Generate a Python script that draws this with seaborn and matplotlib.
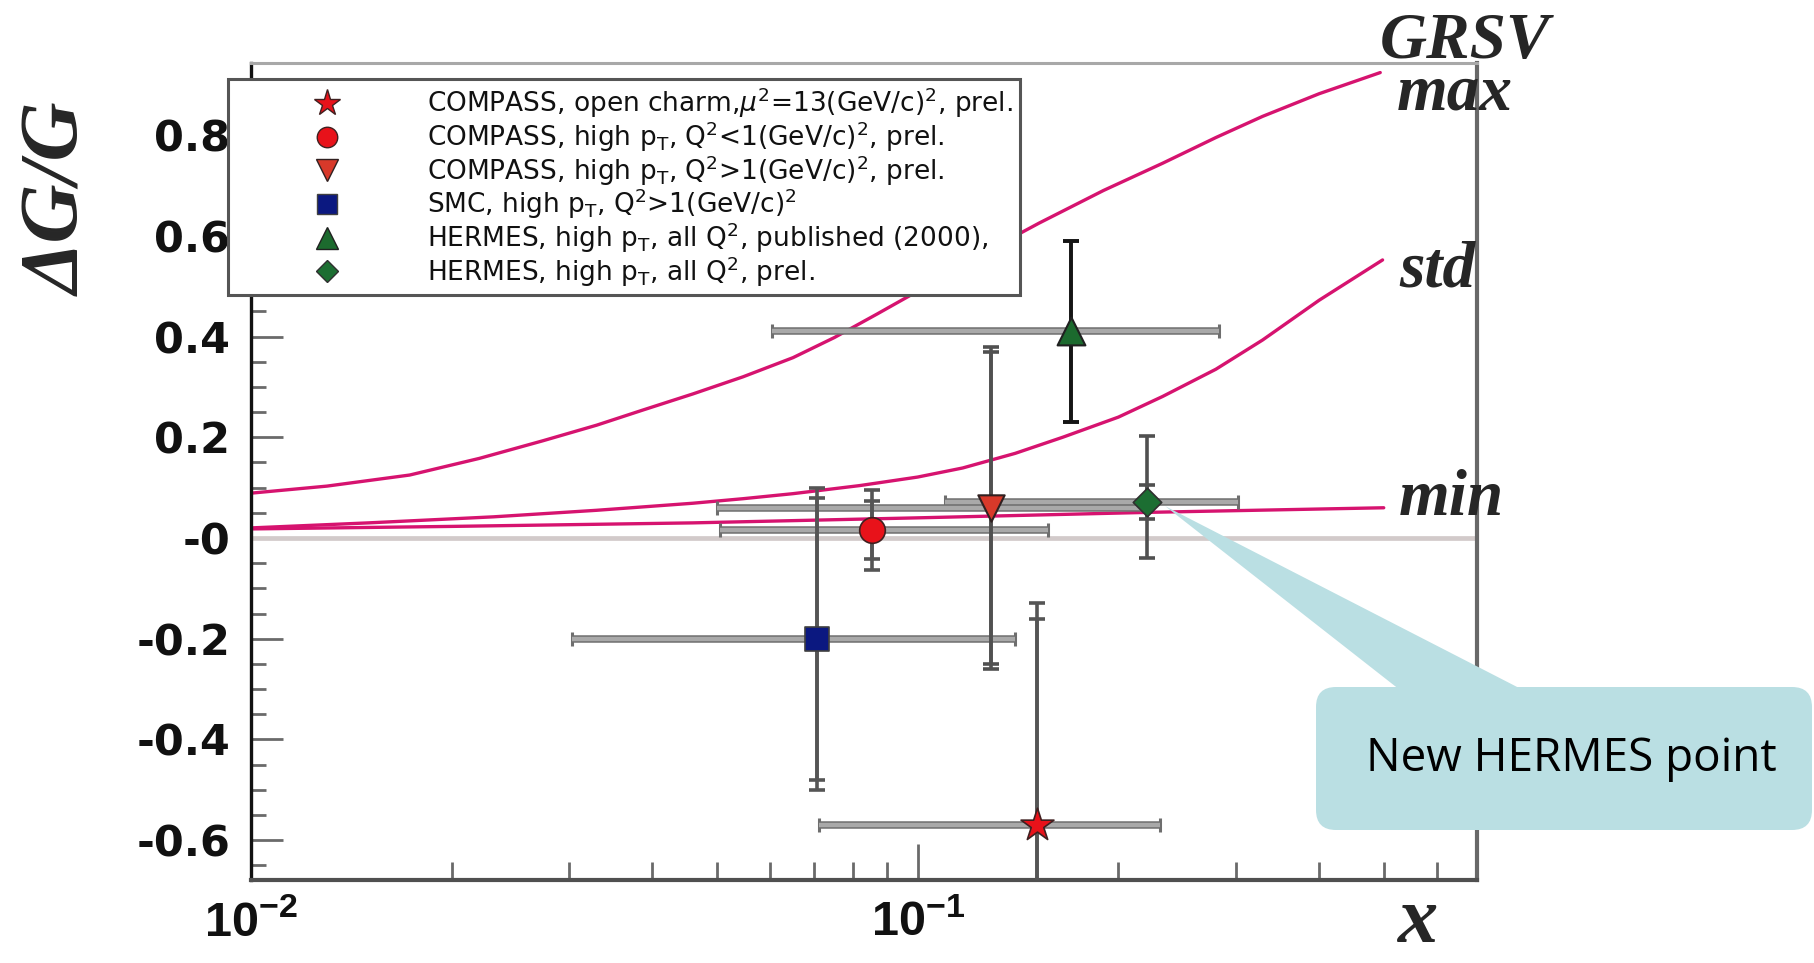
import numpy as np
import pandas as pd
import matplotlib
matplotlib.use("Agg")
import matplotlib.pyplot as plt
import seaborn as sns
from matplotlib.lines import Line2D
from matplotlib.patches import FancyBboxPatch, Polygon
from matplotlib.transforms import IdentityTransform
from matplotlib.ticker import FixedLocator, FixedFormatter, MultipleLocator, NullFormatter

# ---------------- GRSV model curves ----------------
grsv_max_x = [0.01, 0.013, 0.0173, 0.022, 0.0274, 0.033, 0.0387, 0.046, 0.0547, 0.065,
              0.075, 0.087, 0.1, 0.122, 0.152, 0.19, 0.233, 0.28, 0.329, 0.4, 0.494]
grsv_max_y = [0.089, 0.103, 0.125, 0.158, 0.193, 0.224, 0.254, 0.286, 0.32, 0.358,
              0.398, 0.445, 0.49, 0.557, 0.625, 0.69, 0.744, 0.795, 0.837, 0.882, 0.924]
grsv_std_x = [0.01, 0.015, 0.0231, 0.033, 0.046, 0.0547, 0.065, 0.0818, 0.1, 0.1168,
              0.14, 0.165, 0.2, 0.233, 0.28, 0.329, 0.4, 0.498]
grsv_std_y = [0.02, 0.03, 0.042, 0.055, 0.069, 0.078, 0.088, 0.104, 0.121, 0.139,
              0.168, 0.200, 0.240, 0.281, 0.335, 0.393, 0.472, 0.552]
grsv_min_x = [0.01, 0.02, 0.046, 0.1, 0.224, 0.5]
grsv_min_y = [0.018, 0.023, 0.030, 0.040, 0.051, 0.060]

# ---------------- measurements ----------------
experiments = [
    r"COMPASS, open charm,$\mu^2$=13(GeV/c)$^2$, prel.",
    r"COMPASS, high p$_\mathrm{T}$, Q$^2$<1(GeV/c)$^2$, prel.",
    r"COMPASS, high p$_\mathrm{T}$, Q$^2$>1(GeV/c)$^2$, prel.",
    r"SMC, high p$_\mathrm{T}$, Q$^2$>1(GeV/c)$^2$",
    r"HERMES, high p$_\mathrm{T}$, all Q$^2$, published (2000),",
    r"HERMES, high p$_\mathrm{T}$, all Q$^2$, prel.",
]
x_g = [0.151, 0.0854, 0.129, 0.0705, 0.170, 0.221]
dg_g = [-0.57, 0.016, 0.06, -0.20, 0.41, 0.071]
x_low = [0.071, 0.0505, 0.050, 0.0303, 0.0605, 0.110]
x_high = [0.231, 0.1567, 0.220, 0.140, 0.283, 0.302]
stat_err = [0.41, 0.058, 0.31, 0.28, 0.18, 0.034]
tot_err_up = [0.44, 0.079, 0.32, 0.30, 0.18, 0.132]
tot_err_dn = [0.44, 0.079, 0.32, 0.30, 0.18, 0.111]

y_ticks = [-0.6, -0.4, -0.2, 0.0, 0.2, 0.4, 0.6, 0.8]
y_tick_labels = ["-0.6", "-0.4", "-0.2", "-0", "0.2", "0.4", "0.6", "0.8"]
x_ticks = [0.01, 0.1]
x_tick_labels = [r"$\mathbf{10^{-2}}$", r"$\mathbf{10^{-1}}$"]

# ---------------- styles ----------------
marker_style = [
    dict(marker="*", s=620, color="#e8121a", edgecolor="#402020", linewidth=1.2),
    dict(marker="o", s=340, color="#e8121a", edgecolor="#402020", linewidth=1.2),
    dict(marker="v", s=360, color="#d8392a", edgecolor="#302020", linewidth=1.5),
    dict(marker="s", s=310, color="#0b1880", edgecolor="#404040", linewidth=1.2),
    dict(marker="^", s=400, color="#1c6a2e", edgecolor="#202020", linewidth=1.5),
    dict(marker="D", s=210, color="#1c6e32", edgecolor="#303030", linewidth=1.2),
]
vbar_colors = ["#555555", "#555555", "#505050", "#555555", "#151515", "#505050"]
curve_color = "#d6136f"

sns.set_theme(style="white")
plt.rcParams["font.family"] = ["DejaVu Sans"]
plt.rcParams["mathtext.fontset"] = "custom"
plt.rcParams["mathtext.rm"] = "DejaVu Sans"
plt.rcParams["mathtext.it"] = "DejaVu Sans:italic"
plt.rcParams["mathtext.bf"] = "Liberation Sans:bold"

fig = plt.figure(figsize=(18.15, 9.63), dpi=100)
fig.patch.set_facecolor("white")
ax = fig.add_axes([251 / 1815, 83 / 963, 1226 / 1815, 817 / 963])
ax.set_facecolor("white")
ax.set_xscale("log")
ax.set_xlim(0.01, 0.69)
ax.set_ylim(-0.679, 0.943)

# zero line
ax.axhline(0, color="#d2caca", lw=3.4, zorder=1)

# model curves
curves = pd.concat([
    pd.DataFrame({"x": grsv_max_x, "y": grsv_max_y, "model": "max"}),
    pd.DataFrame({"x": grsv_std_x, "y": grsv_std_y, "model": "std"}),
    pd.DataFrame({"x": grsv_min_x, "y": grsv_min_y, "model": "min"}),
])
sns.lineplot(data=curves, x="x", y="y", units="model", estimator=None, sort=False,
             color=curve_color, lw=2.4, ax=ax, zorder=2, legend=False)

# error bars and markers
for i in range(len(experiments)):
    xe = [[x_g[i] - x_low[i]], [x_high[i] - x_g[i]]]
    ax.errorbar([x_g[i]], [dg_g[i]], xerr=xe, fmt="none", ecolor="#6e6e6e",
                elinewidth=5.4, capsize=5, capthick=2.2, zorder=3)
    ax.errorbar([x_g[i]], [dg_g[i]], xerr=xe, fmt="none", ecolor="#a9a9a9",
                elinewidth=3.2, capsize=0, zorder=3.1)
    ax.errorbar([x_g[i]], [dg_g[i]], yerr=[[tot_err_dn[i]], [tot_err_up[i]]], fmt="none",
                ecolor=vbar_colors[i], elinewidth=2.6, capsize=6, capthick=2.6, zorder=4)
    ax.errorbar([x_g[i]], [dg_g[i]], yerr=[[stat_err[i]], [stat_err[i]]], fmt="none",
                ecolor=vbar_colors[i], elinewidth=2.6, capsize=6, capthick=2.6, zorder=4)
    st = marker_style[i]
    sns.scatterplot(x=[x_g[i]], y=[dg_g[i]], marker=st["marker"], s=st["s"],
                    color=st["color"], edgecolor=st["edgecolor"], linewidth=st["linewidth"],
                    ax=ax, zorder=5, legend=False)

# axes frame and ticks
ax.spines["left"].set_color("#111111")
ax.spines["left"].set_linewidth(2.4)
ax.spines["bottom"].set_color("#505050")
ax.spines["bottom"].set_linewidth(3.0)
ax.spines["top"].set_color("#a8a8a8")
ax.spines["top"].set_linewidth(2.2)
ax.spines["right"].set_color("#686868")
ax.spines["right"].set_linewidth(3.0)

ax.yaxis.set_major_locator(FixedLocator(y_ticks))
ax.yaxis.set_major_formatter(FixedFormatter(y_tick_labels))
ax.yaxis.set_minor_locator(MultipleLocator(0.05))
ax.xaxis.set_major_locator(FixedLocator(x_ticks))
ax.xaxis.set_major_formatter(FixedFormatter(x_tick_labels))
ax.xaxis.set_minor_formatter(NullFormatter())
ax.tick_params(axis="both", which="both", direction="in", color="#6a6a6a",
               labelcolor="#111111", left=True, bottom=True, top=False, right=False)
ax.tick_params(axis="y", which="major", length=23, width=2.0, pad=15, labelsize=31)
ax.tick_params(axis="y", which="minor", length=11, width=2.0)
ax.tick_params(axis="x", which="major", length=26, width=2.0, pad=13, labelsize=35)
ax.tick_params(axis="x", which="minor", length=13, width=2.0)
for lab in ax.get_yticklabels():
    lab.set_fontweight("bold")
ax.set_xlabel("")
ax.set_ylabel("")

# axis titles
serif_bi = dict(family="Liberation Serif", weight="bold", style="italic")
fig.text(61 / 1815, 1 - 200 / 963, "ΔG/G", rotation=90, ha="center", va="center",
         fontsize=59, **serif_bi)
fig.text(1418 / 1815, 1 - 922 / 963, "x", ha="center", va="center", fontsize=58, **serif_bi)

# curve names at the curve ends
for name, cx, cy, off in [("max", grsv_max_x, grsv_max_y, (17, -37)),
                          ("GRSV", grsv_max_x, grsv_max_y, (0, 15)),
                          ("std", grsv_std_x, grsv_std_y, (17, -27)),
                          ("min", grsv_min_x, grsv_min_y, (15, -7))]:
    ax.annotate(name, xy=(cx[-1], cy[-1]), xytext=off, textcoords="offset pixels",
                ha="left", va="baseline", fontsize=47, annotation_clip=False,
                zorder=6, **serif_bi)

# legend
handles = []
for st in marker_style:
    handles.append(Line2D([], [], linestyle="none", marker=st["marker"],
                          markersize=np.sqrt(st["s"]) * 0.8, markerfacecolor=st["color"],
                          markeredgecolor=st["edgecolor"], markeredgewidth=1.0))
leg = ax.legend(handles, experiments, loc="upper left",
                bbox_to_anchor=(228 / 1815, 1 - 79 / 963), bbox_transform=fig.transFigure,
                borderaxespad=0, frameon=True, fancybox=False, framealpha=1,
                edgecolor="#555555", facecolor="white",
                prop=dict(family="DejaVu Sans", size=19),
                handlelength=7.0, handletextpad=0.3, borderpad=0.25, labelspacing=-0.03)
leg.get_frame().set_linewidth(2.2)
for t in leg.get_texts():
    t.set_color("#111111")
leg.set_zorder(7)

# callout pointing at the new HERMES point
tip = ax.transData.transform((x_g[5], dg_g[5])) + np.array([18, -4])
callout_color = "#badfe3"
wedge = Polygon([tip, (1400, 963 - 690), (1523, 963 - 690)], closed=True,
                facecolor=callout_color, edgecolor="none", transform=IdentityTransform(),
                zorder=8)
box = FancyBboxPatch((1336, 153), 456, 103, boxstyle="round,pad=20,rounding_size=20",
                     facecolor=callout_color, edgecolor="none",
                     transform=IdentityTransform(), zorder=8)
fig.add_artist(wedge)
fig.add_artist(box)
fig.text(1571 / 1815, 1 - 759 / 963, "New HERMES point", ha="center", va="center",
         fontsize=33, family="Open Sans", color="black", zorder=9)

fig.savefig("out.png", dpi=100)
